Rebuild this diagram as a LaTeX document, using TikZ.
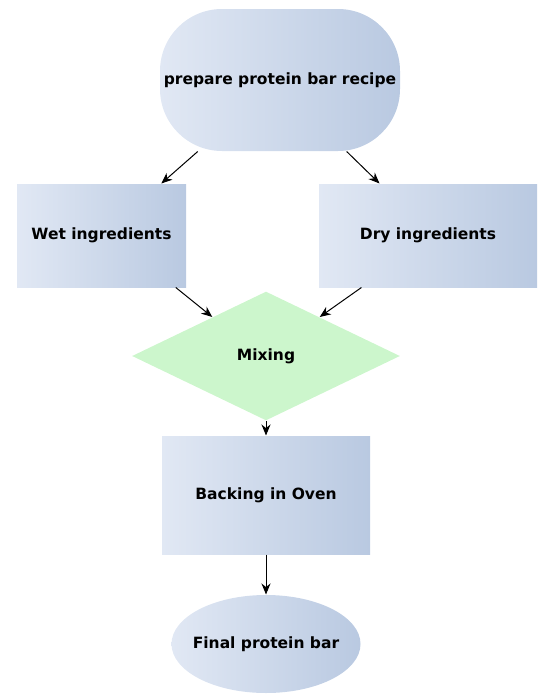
\documentclass[tikz,border=0pt]{standalone}
\usepackage{fontspec}
\setmainfont{DejaVu Sans}
\usetikzlibrary{shapes.geometric,arrows.meta}
\definecolor{boxL}{HTML}{E1E8F4}
\definecolor{boxR}{HTML}{B9C9E1}
\definecolor{mixG}{HTML}{CCF6CC}
\begin{document}
\begin{tikzpicture}[x=1pt,y=-1pt,->,>={Stealth[length=11pt,width=9pt]},line width=1pt,
    every node/.style={font=\fontsize{15.5}{18}\selectfont\bfseries,inner sep=0pt},
    stepbox/.style={left color=boxL,right color=boxR}]
  \useasboundingbox (0,0) rectangle (540,696);
  \node[stepbox,rounded corners=62pt,minimum width=240pt,minimum height=142pt] (recipe) at (280,80) {prepare protein bar recipe};
  \node[stepbox,minimum width=169pt,minimum height=103pt] (wet) at (101.5,235.5) {Wet ingredients};
  \node[stepbox,minimum width=218pt,minimum height=103pt] (dry) at (428,235.5) {Dry ingredients};
  \node[diamond,fill=mixG,minimum width=268pt,minimum height=129pt] (mix) at (266,356) {Mixing};
  \node[stepbox,minimum width=208pt,minimum height=118pt] (oven) at (266,495) {Backing in Oven};
  \node[ellipse,stepbox,inner xsep=-25pt,minimum width=189pt,minimum height=98pt] (bar) at (266,644) {Final protein bar};
  \path (recipe.221) edge (wet.41);
  \path (recipe.313) edge (dry.133);
  \path (wet.-35) edge (mix.144);
  \path (dry.218) edge (mix.36);
  \path (mix.south) edge (oven.north);
  \path (oven.south) edge (bar.north);
\end{tikzpicture}
\end{document}
